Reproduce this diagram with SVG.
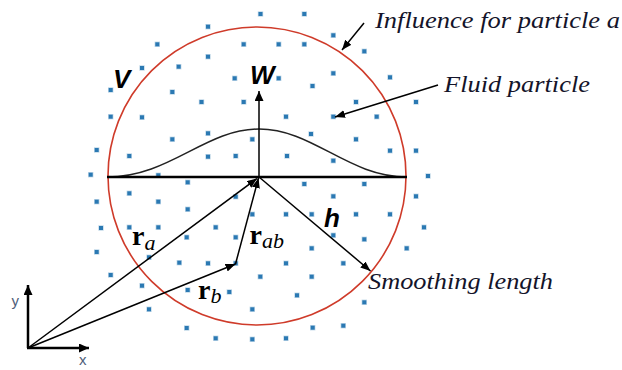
<svg xmlns="http://www.w3.org/2000/svg" xmlns:xlink="http://www.w3.org/1999/xlink" width="622" height="370" viewBox="0 0 622 370">
<style>
.p{fill:#2b79b3;stroke:#2b79b3;stroke-opacity:0.3;stroke-width:1.4}
.ln{stroke:#000;fill:none;stroke-width:1.5}
.thick{stroke:#000;fill:none;stroke-width:2.5}
.lbl{font-family:"Liberation Serif","Times New Roman",serif;font-style:italic;font-size:24px;fill:#14142a}
.big{font-family:"Liberation Sans",Arial,sans-serif;font-style:italic;font-weight:bold;font-size:26px;fill:#000}
.vec{font-family:"Liberation Serif",serif;font-weight:bold;font-size:28px;fill:#000}
.sub{font-family:"Liberation Serif",serif;font-style:italic;font-size:22px;fill:#000}
.ax{font-family:"Liberation Sans",Arial,sans-serif;font-size:15px;fill:#50607a}
</style>
<defs>
<marker id="ah" markerUnits="userSpaceOnUse" markerWidth="10" markerHeight="8" refX="10" refY="4" orient="auto"><path d="M0,0 L10,4 L0,8 z" fill="#000"/></marker>
<marker id="ahb" markerUnits="userSpaceOnUse" markerWidth="10" markerHeight="9" refX="10" refY="4.5" orient="auto"><path d="M0,0 L10,4.5 L0,9 z" fill="#000"/></marker>
<rect id="d" x="-2" y="-2" width="4" height="4"/>
</defs>
<rect width="622" height="370" fill="#fff"/>

<g id="particles" class="p">
<use xlink:href="#d" x="260.5" y="14"/><use xlink:href="#d" x="304.3" y="14"/>
<use xlink:href="#d" x="208" y="26.7"/><use xlink:href="#d" x="333.3" y="35.3"/>
<use xlink:href="#d" x="157.3" y="44.3"/><use xlink:href="#d" x="243.7" y="44.3"/><use xlink:href="#d" x="278.7" y="44.3"/><use xlink:href="#d" x="304.3" y="44.3"/>
<use xlink:href="#d" x="364.3" y="51.3"/><use xlink:href="#d" x="208" y="56.7"/>
<use xlink:href="#d" x="142" y="68"/><use xlink:href="#d" x="178.7" y="66.7"/>
<use xlink:href="#d" x="333.3" y="73.3"/><use xlink:href="#d" x="390" y="77.3"/>
<use xlink:href="#d" x="234.7" y="78.3"/><use xlink:href="#d" x="278.7" y="78.3"/>
<use xlink:href="#d" x="312.5" y="86"/>
<use xlink:href="#d" x="110.7" y="90"/><use xlink:href="#d" x="172.3" y="92"/>
<use xlink:href="#d" x="201.5" y="102"/><use xlink:href="#d" x="243.7" y="102"/><use xlink:href="#d" x="356" y="102"/><use xlink:href="#d" x="416" y="102"/>
<use xlink:href="#d" x="110.7" y="116.7"/><use xlink:href="#d" x="142" y="117.3"/><use xlink:href="#d" x="286" y="116.7"/><use xlink:href="#d" x="333.3" y="116.7"/><use xlink:href="#d" x="376.7" y="116.7"/>
<use xlink:href="#d" x="208" y="133.3"/><use xlink:href="#d" x="311" y="134"/>
<use xlink:href="#d" x="172.3" y="139.3"/><use xlink:href="#d" x="252.3" y="139.3"/><use xlink:href="#d" x="356" y="139.3"/>
<use xlink:href="#d" x="96.7" y="150"/><use xlink:href="#d" x="390" y="150.7"/><use xlink:href="#d" x="416" y="150.7"/>
<use xlink:href="#d" x="129.3" y="156"/><use xlink:href="#d" x="208" y="156.7"/><use xlink:href="#d" x="235.7" y="156"/><use xlink:href="#d" x="287" y="156"/>
<use xlink:href="#d" x="333.3" y="160.7"/>
<use xlink:href="#d" x="90.7" y="174.7"/><use xlink:href="#d" x="158.3" y="175.3"/><use xlink:href="#d" x="428" y="176"/>
<use xlink:href="#d" x="187.7" y="182.3"/><use xlink:href="#d" x="304.3" y="184"/><use xlink:href="#d" x="364.3" y="184"/>
<use xlink:href="#d" x="129.3" y="193.3"/>
<use xlink:href="#d" x="235.7" y="196.7"/><use xlink:href="#d" x="333.3" y="196.3"/><use xlink:href="#d" x="416" y="196.3"/>
<use xlink:href="#d" x="96.7" y="201.7"/><use xlink:href="#d" x="158.3" y="201.7"/>
<use xlink:href="#d" x="187.7" y="209.3"/>
<use xlink:href="#d" x="252.3" y="214.3"/><use xlink:href="#d" x="286" y="214.3"/><use xlink:href="#d" x="311.7" y="214.3"/><use xlink:href="#d" x="356" y="214.3"/><use xlink:href="#d" x="390" y="214.3"/>
<use xlink:href="#d" x="101" y="228"/><use xlink:href="#d" x="129.3" y="227.3"/><use xlink:href="#d" x="158.3" y="227.3"/><use xlink:href="#d" x="215.7" y="227.3"/><use xlink:href="#d" x="424" y="227.3"/>
<use xlink:href="#d" x="333.3" y="235.3"/>
<use xlink:href="#d" x="186.7" y="237.3"/><use xlink:href="#d" x="235.7" y="237.3"/><use xlink:href="#d" x="364.3" y="239.3"/>
<use xlink:href="#d" x="311.7" y="248.3"/><use xlink:href="#d" x="406.7" y="248.3"/>
<use xlink:href="#d" x="96.7" y="252"/><use xlink:href="#d" x="149" y="257.3"/><use xlink:href="#d" x="179.3" y="262.7"/>
<use xlink:href="#d" x="208" y="263.3"/><use xlink:href="#d" x="235.7" y="263.3"/><use xlink:href="#d" x="286" y="263.3"/><use xlink:href="#d" x="343.3" y="263.3"/>
<use xlink:href="#d" x="110.7" y="275"/>
<use xlink:href="#d" x="260.3" y="276.7"/><use xlink:href="#d" x="311.7" y="276.7"/>
<use xlink:href="#d" x="142" y="285.7"/><use xlink:href="#d" x="187.7" y="290"/><use xlink:href="#d" x="229.3" y="292"/><use xlink:href="#d" x="297" y="295.3"/>
<use xlink:href="#d" x="364.3" y="302.3"/>
<use xlink:href="#d" x="149" y="309.3"/><use xlink:href="#d" x="252.3" y="309.3"/>
<use xlink:href="#d" x="343.3" y="325.7"/><use xlink:href="#d" x="186.7" y="328"/><use xlink:href="#d" x="312.7" y="327.7"/>
<use xlink:href="#d" x="215.7" y="338.3"/><use xlink:href="#d" x="252.3" y="339.3"/><use xlink:href="#d" x="286" y="338.3"/>
</g>

<g id="influence-circle">
<circle cx="257" cy="176" r="149" fill="none" stroke="#cf3b2a" stroke-width="1.6"/>
</g>

<g id="kernel">
<path d="M107,177 C170,177 205,129 259,129 C313,129 348,177 407,177" fill="none" stroke="#222" stroke-width="1.5"/>
</g>

<g id="connectors">
<line class="thick" x1="107" y1="177" x2="407" y2="177"/>
<line class="ln" x1="259" y1="177" x2="259" y2="91" stroke-width="2" marker-end="url(#ahb)"/>
<line class="ln" x1="28" y1="348" x2="257" y2="178.5" marker-end="url(#ah)"/>
<line class="ln" x1="28" y1="348" x2="235.5" y2="264" marker-end="url(#ah)"/>
<line class="ln" x1="235.5" y1="264" x2="258.5" y2="178" marker-end="url(#ah)"/>
<line class="ln" x1="259" y1="177" x2="370.5" y2="271" marker-end="url(#ah)"/>
<line class="ln" x1="364" y1="23" x2="342" y2="50" marker-end="url(#ah)"/>
<line class="ln" x1="438" y1="85" x2="335" y2="117" marker-end="url(#ah)"/>
<line class="thick" x1="28" y1="348" x2="28" y2="285" marker-end="url(#ahb)"/>
<line class="thick" x1="27" y1="348" x2="89" y2="348" marker-end="url(#ahb)"/>
</g>

<g id="labels">
<text class="big" x="113" y="88">V</text>
<text class="big" x="250" y="84">W</text>
<text class="big" x="324" y="227">h</text>
<text class="lbl" x="375" y="28" textLength="245" lengthAdjust="spacingAndGlyphs">Influence for particle a</text>
<text class="lbl" x="444" y="91.5" textLength="146" lengthAdjust="spacingAndGlyphs">Fluid particle</text>
<text class="lbl" x="368" y="289" textLength="185" lengthAdjust="spacingAndGlyphs">Smoothing length</text>
<text x="132" y="245"><tspan class="vec">r</tspan><tspan class="sub" dy="5">a</tspan></text>
<text x="249.5" y="243.5"><tspan class="vec">r</tspan><tspan class="sub" dy="4">ab</tspan></text>
<text x="198" y="298.5"><tspan class="vec">r</tspan><tspan class="sub" dy="4">b</tspan></text>
<text class="ax" x="11.5" y="306">y</text>
<text class="ax" x="79" y="365">x</text>
</g>
</svg>
